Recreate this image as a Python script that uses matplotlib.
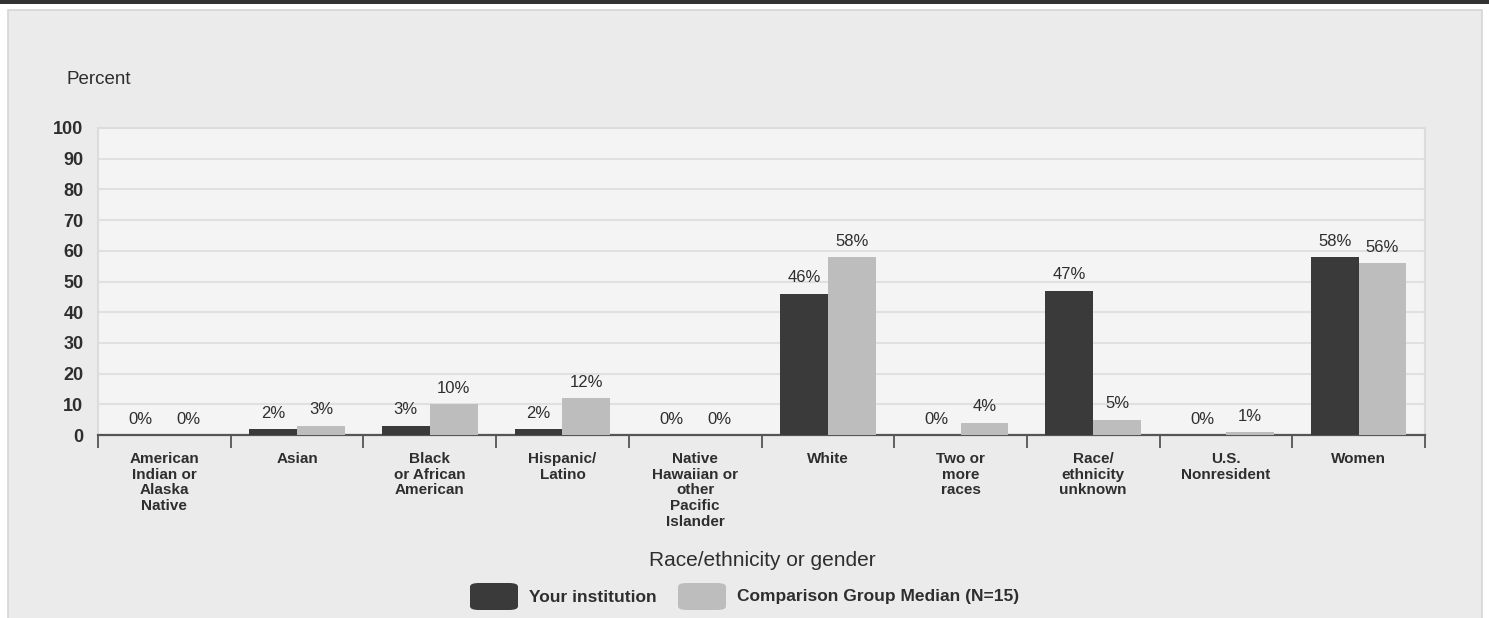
import matplotlib.pyplot as plt
import numpy as np
from matplotlib.patches import Rectangle, FancyBboxPatch

categories = ["American\nIndian or\nAlaska\nNative", "Asian", "Black\nor African\nAmerican",
              "Hispanic/\nLatino", "Native\nHawaiian or\nother\nPacific\nIslander", "White",
              "Two or\nmore\nraces", "Race/\nethnicity\nunknown", "U.S.\nNonresident", "Women"]
your_inst = [0, 2, 3, 2, 0, 46, 0, 47, 0, 58]
comparison = [0, 3, 10, 12, 0, 58, 4, 5, 1, 56]
series_names = ["Your institution", "Comparison Group Median (N=15)"]

dark = "#3a3a3a"
light = "#bdbdbd"
txt = "#2e2e2e"
plt.rcParams['font.family'] = ['Liberation Sans', 'DejaVu Sans']

fig = plt.figure(figsize=(14.89, 6.18), dpi=100)
fig.patch.set_facecolor("white")

# top dark strip and outer panel (behind the axes)
fig.patches.append(Rectangle((0, 1 - 4 / 618), 1, 4 / 618, transform=fig.transFigure,
                             facecolor="#333333", edgecolor="none", zorder=-2))
fig.patches.append(Rectangle((8 / 1489, -0.05), 1474 / 1489, 1.05 - 10 / 618,
                             transform=fig.transFigure, facecolor="#ebebeb",
                             edgecolor="#d6d6d6", linewidth=1.2, zorder=-2))

ax = fig.add_axes([98 / 1489, 1 - 435 / 618, 1327 / 1489, 307 / 618])
ax.set_facecolor("#f4f4f4")

x = np.arange(len(categories))
w = 0.36
b1 = ax.bar(x - w / 2, your_inst, w, color=dark, label=series_names[0], zorder=3)
b2 = ax.bar(x + w / 2, comparison, w, color=light, label=series_names[1], zorder=3)

for bars, vals in ((b1, your_inst), (b2, comparison)):
    for r, v in zip(bars, vals):
        ax.annotate(f"{v}%", (r.get_x() + r.get_width() / 2, v), xytext=(0, 6),
                    textcoords="offset points", ha="center", va="bottom",
                    fontsize=12, color=txt)

ax.set_xlim(-0.5, len(categories) - 0.5)
ax.set_ylim(0, 100)
ax.set_yticks(range(0, 101, 10))
ax.yaxis.grid(True, color="#e0e0e0", linewidth=1.5, zorder=0)
ax.set_axisbelow(True)
ax.tick_params(axis="y", length=0, labelsize=13, labelcolor=txt, pad=10.5)
for t in ax.get_yticklabels():
    t.set_fontweight("bold")

ax.set_xticks(np.arange(-0.5, len(categories), 1))
ax.set_xticklabels([])
ax.set_xticks(x, minor=True)
ax.set_xticklabels(categories, minor=True, fontsize=11, color=txt,
                   fontweight="bold", linespacing=1.17)
ax.tick_params(axis="x", which="major", length=9, width=1.3, color="#555555")
ax.tick_params(axis="x", which="minor", length=0, pad=12)

for s in ("top", "left", "right"):
    ax.spines[s].set_color("#dcdcdc")
    ax.spines[s].set_linewidth(1.5)
ax.spines["bottom"].set_color("#555555")
ax.spines["bottom"].set_linewidth(1.6)

fig.text(67 / 1489, 1 - 79 / 618, "Percent", fontsize=13.5, color=txt, va="center")
fig.text(762 / 1489, 1 - 561 / 618, "Race/ethnicity or gender", fontsize=15,
         color=txt, ha="center", va="center")

# legend
for x0, label, col in ((470, series_names[0], dark), (678, series_names[1], light)):
    fig.patches.append(FancyBboxPatch((x0 / 1489, 1 - 610 / 618), 48 / 1489, 27 / 618,
                                      boxstyle="round,pad=0,rounding_size=0.006",
                                      transform=fig.transFigure, facecolor=col,
                                      edgecolor="none"))
    fig.text((x0 + 59) / 1489, 1 - 597 / 618, label, fontsize=12.5, fontweight="bold",
             color=txt, va="center")

fig.savefig("out.png", dpi=100)
